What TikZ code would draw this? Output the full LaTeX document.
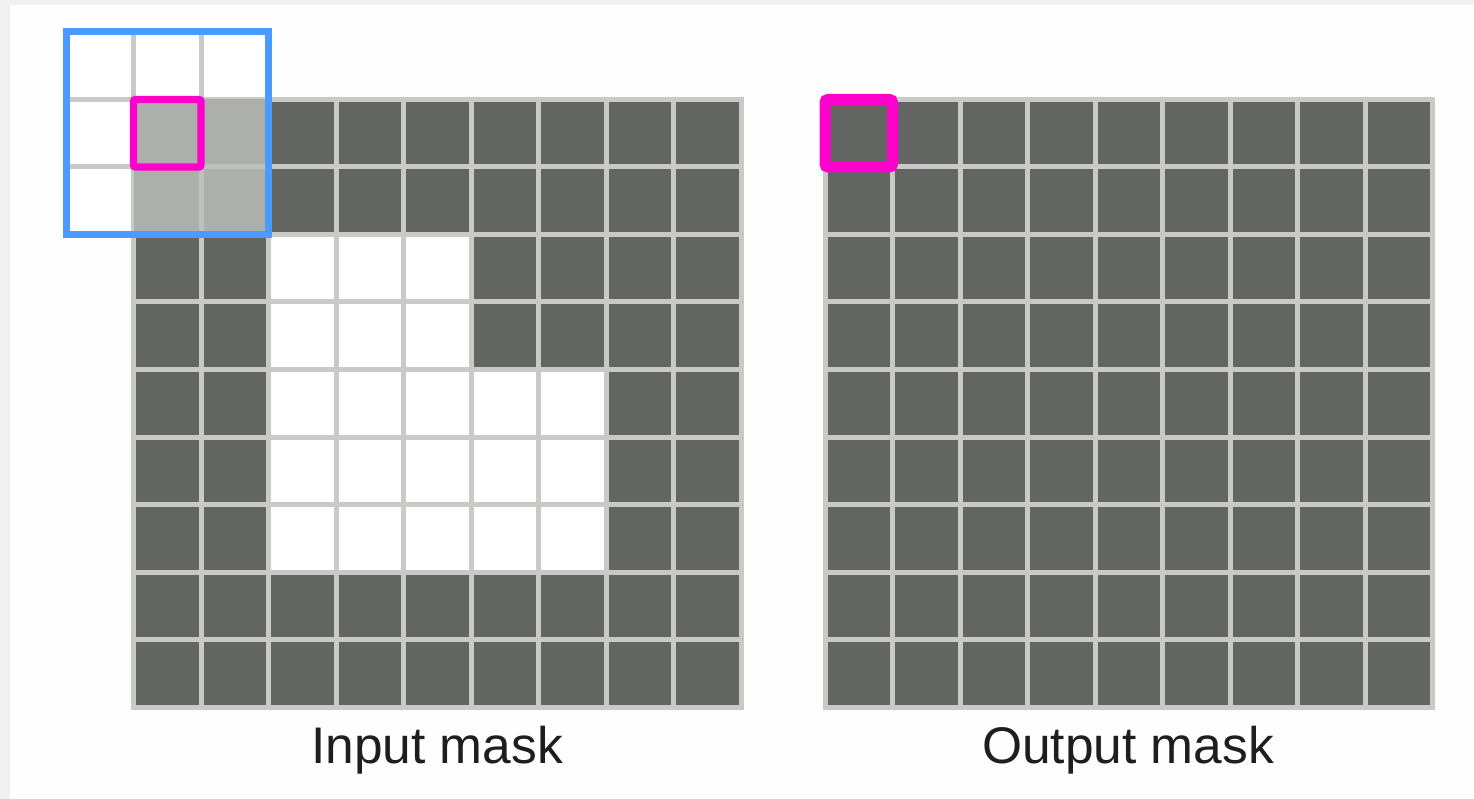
\documentclass[tikz,border=0pt]{standalone}
\usepackage{fontspec}
\setmainfont{Liberation Sans}
\definecolor{cellc}{HTML}{636562}
\definecolor{gridc}{HTML}{C9CAC8}
\definecolor{wingridc}{HTML}{C0C1BF}
\definecolor{winfillc}{HTML}{ADAFAB}
\definecolor{bluec}{HTML}{4A9AFF}
\definecolor{magc}{HTML}{FF00CC}
\definecolor{framec}{HTML}{F0F0F0}
\definecolor{panelc}{HTML}{FDFEFD}
\definecolor{textc}{HTML}{1E1E1E}
\begin{document}
\begin{tikzpicture}[x=1pt,y=-1pt,
  gridline/.style={draw=gridc,line width=5pt},
  wingridline/.style={draw=wingridc,line width=5pt},
  window/.style={draw=bluec,line width=7pt},
  focus/.style={draw=magc,line width=7.3pt,rounded corners=2pt},
  label/.style={font=\fontsize{51.5}{60}\selectfont,text=textc,anchor=base,inner sep=0pt}]
\useasboundingbox (0,0) rectangle (1474,799);
\fill[framec] (0,0) rectangle (1474,799);
\fill[panelc] (10,5) rectangle (1474,799);
\def\p{67.5}
% ---------- input mask ----------
\def\xa{133.5}\def\ya{99.5}
\fill[cellc] (\xa,\ya) rectangle ++(9*\p,9*\p);
\fill[white] (\xa+2*\p,\ya+2*\p) rectangle ++(3*\p,2*\p);
\fill[white] (\xa+2*\p,\ya+4*\p) rectangle ++(5*\p,3*\p);
% padding cells
\fill[white] (\xa-\p,\ya-\p) rectangle (\xa+2*\p,\ya);
\fill[white] (\xa-\p,\ya) rectangle (\xa,\ya+2*\p);
% grid lines
\foreach \i in {1,...,8}{
  \draw[gridline] (\xa+\i*\p,\ya) -- ++(0,9*\p);
  \draw[gridline] (\xa,\ya+\i*\p) -- ++(9*\p,0);
}
\draw[gridline] (\xa,\ya) rectangle ++(9*\p,9*\p);
% padding lines
\draw[gridline] (\xa,\ya-\p) -- (\xa,\ya);
\draw[gridline] (\xa+\p,\ya-\p) -- (\xa+\p,\ya);
\draw[gridline] (\xa-\p,\ya) -- (\xa,\ya);
\draw[gridline] (\xa-\p,\ya+\p) -- (\xa,\ya+\p);
% window overlay
\fill[winfillc] (\xa,\ya) rectangle ++(2*\p,2*\p);
\draw[wingridline] (\xa+\p,\ya) -- ++(0,2*\p);
\draw[wingridline] (\xa,\ya+\p) -- ++(2*\p,0);
\draw[window] (\xa-\p,\ya-\p) rectangle (\xa+2*\p,\ya+2*\p);
\draw[focus] (\xa,\ya) rectangle ++(\p,\p);
\node[label] (inlabel) at (437,763) {Input mask};
% ---------- output mask ----------
\def\xb{825}
\fill[cellc] (\xb,\ya) rectangle ++(9*\p,9*\p);
\foreach \i in {1,...,8}{
  \draw[gridline] (\xb+\i*\p,\ya) -- ++(0,9*\p);
  \draw[gridline] (\xb,\ya+\i*\p) -- ++(9*\p,0);
}
\draw[gridline] (\xb,\ya) rectangle ++(9*\p,9*\p);
\draw[focus,line width=11pt,rounded corners=3pt] (\xb,\ya) rectangle ++(\p,\p);
\node[label] (outlabel) at (1128,763) {Output mask};
\end{tikzpicture}
\end{document}
